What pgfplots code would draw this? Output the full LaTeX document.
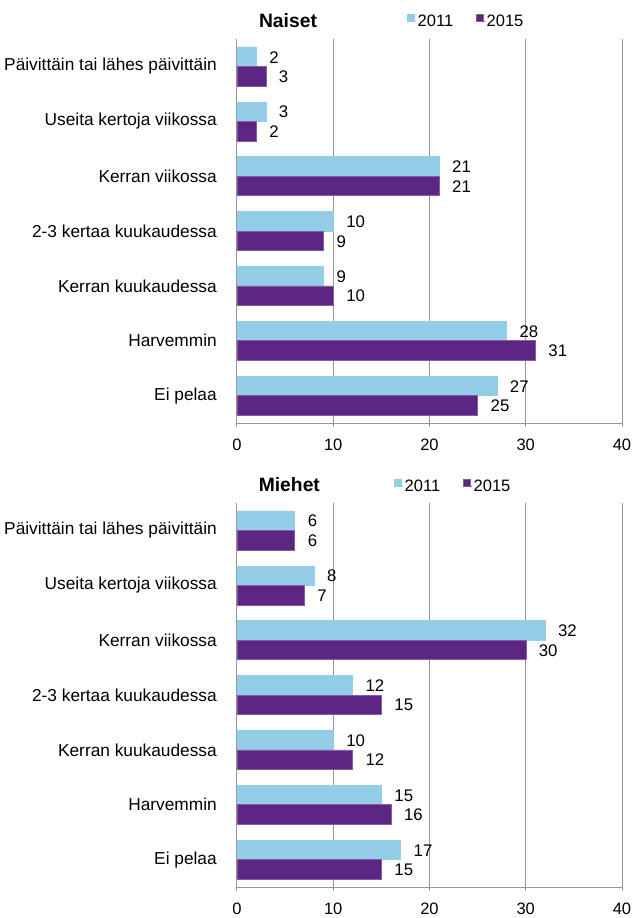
\documentclass[border=0pt]{standalone}
\usepackage{fontspec}
\setmainfont{Liberation Sans}
\usepackage{pgfplots}
\pgfplotsset{compat=1.18}

\definecolor{c2011}{RGB}{147,205,232}
\definecolor{c2015}{RGB}{94,38,132}
\definecolor{gridgray}{RGB}{150,150,150}

\pgfplotsset{
  panel/.style={
    scale only axis, width=385pt, height=384pt,
    xmin=0, xmax=40, ymin=-0.5, ymax=6.5,
    xtick={0,10,...,40},
    ytick={0,...,6},
    yticklabels={Ei pelaa, Harvemmin, Kerran kuukaudessa, 2-3 kertaa kuukaudessa,
      Kerran viikossa, Useita kertoja viikossa, Päivittäin tai lähes päivittäin},
    axis x line*=bottom, axis y line*=left,
    axis line style={gridgray, line width=1pt, -},
    xmajorgrids, grid style={gridgray, line width=1pt},
    x tick style={gridgray, line width=1pt},
    y tick style={draw=none},
    tick align=outside, major tick length=4pt,
    xbar, bar width=19.5pt,
    clip=false,
    /pgf/number format/assume math mode=true,
    xticklabel style={font=\fontsize{16.5}{18}\selectfont, yshift=-8pt},
    yticklabel style={font=\fontsize{17.3}{19}\selectfont, xshift=-12.7pt},
    nodes near coords,
    nodes near coords style={font=\fontsize{16.8}{18}\selectfont, anchor=west, xshift=9.5pt, yshift=-0.5pt, text=black},
    legend columns=2,
    legend image code/.code={\fill[##1] (0pt,-0.5pt) rectangle (7pt,6.5pt);
      \path (0pt,0pt) -- (9pt,0pt);},
    legend style={draw=none, fill=none, inner sep=0pt, anchor=west,
      font=\fontsize{16.5}{18}\selectfont,
      nodes={inner xsep=1pt, inner ysep=0pt},
      /tikz/every even column/.append style={column sep=22pt}},
  },
  s2011/.style={fill=c2011, draw=c2011, line width=0.5pt, bar shift=9.75pt},
  s2015/.style={fill=c2015, draw=c2015!75!white, line width=0.5pt, bar shift=-9.75pt},
}

\begin{document}
\begin{tikzpicture}
\useasboundingbox (0,0) rectangle (635pt,-918pt);

% Naiset
\begin{axis}[panel, at={(237pt,-423pt)}, anchor=south west,
  legend style={at={(0.4416,1.047)}}]
\addplot[s2011] coordinates {(2,6) (3,5) (21,4) (10,3) (9,2) (28,1) (27,0)};
\addlegendentry{2011}
\addplot[s2015] coordinates {(3,6) (2,5) (21,4) (9,3) (10,2) (31,1) (25,0)};
\addlegendentry{2015}
\node[font=\bfseries\fontsize{19.3}{21}\selectfont, anchor=base]
  at (rel axis cs:0.1325,1.031) {Naiset};
\end{axis}

% Miehet
\begin{axis}[panel, at={(237pt,-887pt)}, anchor=south west,
  legend style={at={(0.4078,1.044)}}]
\addplot[s2011] coordinates {(6,6) (8,5) (32,4) (12,3) (10,2) (15,1) (17,0)};
\addlegendentry{2011}
\addplot[s2015] coordinates {(6,6) (7,5) (30,4) (15,3) (12,2) (16,1) (15,0)};
\addlegendentry{2015}
\node[font=\bfseries\fontsize{19.3}{21}\selectfont, anchor=base]
  at (rel axis cs:0.136,1.031) {Miehet};
\end{axis}
\end{tikzpicture}
\end{document}
